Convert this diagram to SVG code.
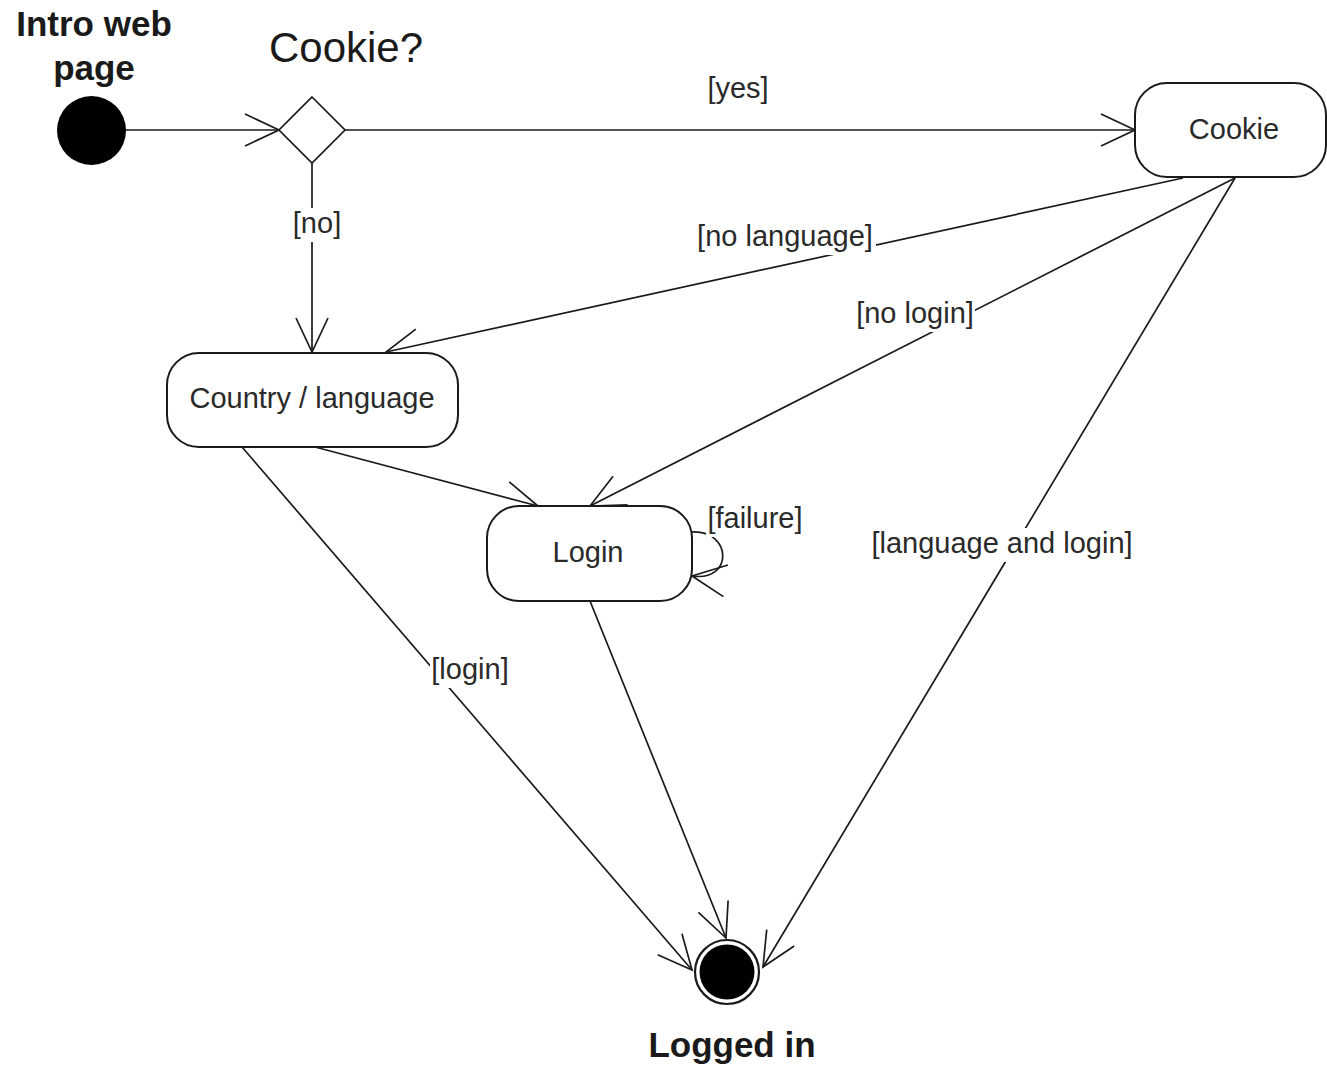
<svg xmlns="http://www.w3.org/2000/svg" width="1327" height="1066" viewBox="0 0 1327 1066">
  <style>
    .edge { fill: none; stroke: #1a1a1a; stroke-width: 1.7; }
    .state { fill: #ffffff; stroke: #1a1a1a; stroke-width: 2; }
    .txt { font-family: "Liberation Sans", Arial, sans-serif; font-size: 29px; fill: #2a2a2a; text-anchor: middle; }
    .title { font-family: "Liberation Sans", Arial, sans-serif; font-size: 35px; font-weight: bold; fill: #1a1a1a; text-anchor: middle; }
    .head { font-family: "Liberation Sans", Arial, sans-serif; font-size: 42px; fill: #1a1a1a; text-anchor: middle; }
    .bg { fill: #ffffff; }
  </style>
  <defs>
    <marker id="open" markerUnits="userSpaceOnUse" markerWidth="40" markerHeight="40" refX="36" refY="18" orient="auto" overflow="visible">
      <path d="M2,2 L36,18 L2,34" fill="none" stroke="#1a1a1a" stroke-width="1.7"/>
    </marker>
  </defs>

  <!-- transitions -->
  <g id="connectors">
    <line class="edge" x1="126" y1="130" x2="279" y2="130" marker-end="url(#open)"/>
    <line class="edge" x1="345" y1="130" x2="1135" y2="130" marker-end="url(#open)"/>
    <line class="edge" x1="312" y1="162" x2="312" y2="352" marker-end="url(#open)"/>
    <line class="edge" x1="1183" y1="178" x2="386" y2="352" marker-end="url(#open)"/>
    <line class="edge" x1="1235" y1="178" x2="590" y2="506" marker-end="url(#open)"/>
    <line class="edge" x1="1235" y1="178" x2="763" y2="967" marker-end="url(#open)"/>
    <line class="edge" x1="315" y1="447" x2="538" y2="506" marker-end="url(#open)"/>
    <line class="edge" x1="242" y1="447" x2="692" y2="970" marker-end="url(#open)"/>
    <line class="edge" x1="590" y1="601" x2="726" y2="938" marker-end="url(#open)"/>
    <!-- self transition on Login -->
    <path class="edge" d="M692,532 C732,530 734,582 692,576" marker-end="url(#open)"/>

    <!-- guard labels -->
    <text class="txt" x="738" y="98">[yes]</text>
    <rect class="bg" x="293" y="208" width="48" height="34"/>
    <text class="txt" x="317" y="233">[no]</text>
    <rect class="bg" x="694" y="221" width="182" height="34"/>
    <text class="txt" x="785" y="246">[no language]</text>
    <rect class="bg" x="855" y="298" width="120" height="34"/>
    <text class="txt" x="915" y="323">[no login]</text>
    <rect class="bg" x="706" y="503" width="98" height="34"/>
    <text class="txt" x="755" y="528">[failure]</text>
    <rect class="bg" x="867" y="528" width="270" height="34"/>
    <text class="txt" x="1002" y="553">[language and login]</text>
    <rect class="bg" x="430" y="654" width="80" height="34"/>
    <text class="txt" x="470" y="679">[login]</text>
  </g>

  <g id="start">
    <circle cx="91.5" cy="130.5" r="34.5" fill="#000000"/>
    <text class="title" x="94" y="36">Intro web</text>
    <text class="title" x="94" y="80">page</text>
  </g>

  <g id="decision">
    <polygon points="312,97 345,130 312,163 279,130" fill="#ffffff" stroke="#1a1a1a" stroke-width="1.7"/>
    <text class="head" x="346" y="62">Cookie?</text>
  </g>

  <g id="cookie">
    <rect class="state" x="1135" y="83" width="191" height="94" rx="32" ry="32"/>
    <text class="txt" x="1234" y="139">Cookie</text>
  </g>

  <g id="country">
    <rect class="state" x="167" y="353" width="291" height="94" rx="32" ry="32"/>
    <text class="txt" x="312" y="408">Country / language</text>
  </g>

  <g id="login">
    <rect class="state" x="487" y="506" width="205" height="95" rx="32" ry="32"/>
    <text class="txt" x="588" y="562">Login</text>
  </g>

  <g id="final">
    <circle cx="727" cy="972" r="32" fill="#ffffff" stroke="#1a1a1a" stroke-width="2.2"/>
    <circle cx="727" cy="972" r="27.5" fill="#000000"/>
    <text class="title" x="732" y="1057">Logged in</text>
  </g>
</svg>
